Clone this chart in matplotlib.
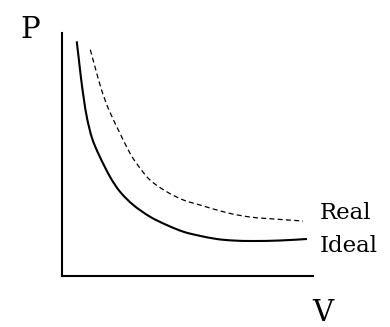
import matplotlib
matplotlib.use("Agg")
import matplotlib.pyplot as plt
from matplotlib.path import Path
from matplotlib.patches import PathPatch

# Ideal gas curve (V, P) in arbitrary units
ideal_v = [0.586, 0.665, 0.757, 0.865, 0.996, 1.195, 1.474, 1.912, 2.311, 2.841,
           3.506, 4.171, 4.833, 5.430, 6.163, 6.813, 7.610, 8.685, 9.761]
ideal_p = [9.658, 8.971, 8.148, 7.325, 6.502, 5.679, 4.979, 4.086, 3.469, 2.922,
           2.440, 2.099, 1.823, 1.667, 1.523, 1.461, 1.440, 1.461, 1.523]

# Real gas curve
real_v = [1.127, 1.327, 1.594, 1.924, 2.641, 2.988, 3.506, 4.171, 4.833, 5.498,
          6.614, 7.490, 8.167, 9.602]
real_p = [9.313, 8.560, 7.601, 6.708, 5.185, 4.609, 3.951, 3.469, 3.128, 2.922,
          2.593, 2.428, 2.366, 2.263]

labels = {"real": "Real", "ideal": "Ideal", "x": "V", "y": "P"}


def smooth_path(xs, ys):
    """Cubic Bezier path through the points (Catmull-Rom tangents)."""
    pts = list(zip(xs, ys))
    verts = [pts[0]]
    codes = [Path.MOVETO]
    n = len(pts)
    for i in range(n - 1):
        p0 = pts[i - 1] if i > 0 else pts[i]
        p1 = pts[i]
        p2 = pts[i + 1]
        p3 = pts[i + 2] if i + 2 < n else pts[i + 1]
        c1 = (p1[0] + (p2[0] - p0[0]) / 6, p1[1] + (p2[1] - p0[1]) / 6)
        c2 = (p2[0] - (p3[0] - p1[0]) / 6, p2[1] - (p3[1] - p1[1]) / 6)
        verts += [c1, c2, p2]
        codes += [Path.CURVE4] * 3
    return Path(verts, codes)


W, H = 390, 327
fig = plt.figure(figsize=(W / 100, H / 100), dpi=100)
ax = fig.add_axes([62 / W, (H - 276) / H, 251 / W, 243 / H])
ax.set_xlim(0, 10)
ax.set_ylim(0, 10)

ax.add_patch(PathPatch(smooth_path(ideal_v, ideal_p), fill=False,
                       edgecolor="black", lw=1.5, capstyle="butt"))
ax.add_patch(PathPatch(smooth_path(real_v, real_p), fill=False,
                       edgecolor="black", lw=0.9, linestyle=(0, (4.0, 2.6))))

for s in ["top", "right"]:
    ax.spines[s].set_visible(False)
for s in ["left", "bottom"]:
    ax.spines[s].set_linewidth(1.5)
    ax.spines[s].set_color("black")
ax.set_xticks([])
ax.set_yticks([])

font = "DejaVu Serif"
fig.text(20 / W, 1 - 38 / H, labels["y"], fontsize=21, family=font, ha="left", va="baseline")
fig.text(312 / W, 1 - 321 / H, labels["x"], fontsize=21, family=font, ha="left", va="baseline")
fig.text(320 / W, 1 - 213 / H, labels["real"], fontsize=16.5, family=font, ha="left", va="center")
fig.text(320 / W, 1 - 246 / H, labels["ideal"], fontsize=16.5, family=font, ha="left", va="center")

fig.savefig("out.png", dpi=100)
